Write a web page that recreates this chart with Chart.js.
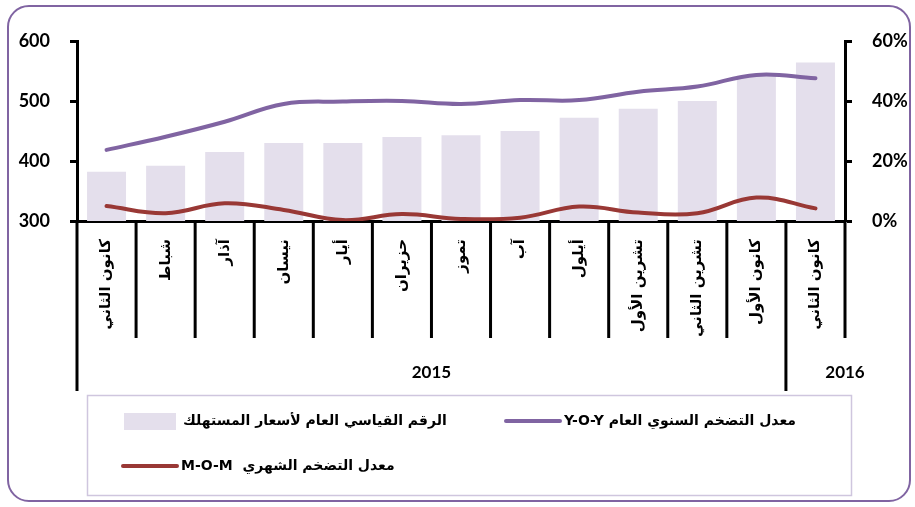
<!DOCTYPE html>
<html>
<head>
<meta charset="utf-8">
<script src="https://cdn.jsdelivr.net/npm/chart.js@4"></script>
<style>
  html, body { margin: 0; padding: 0; background: #fff; }
  #wrap { position: relative; width: 915px; height: 507px; overflow: hidden; }
  #frame {
    position: absolute; left: 7px; top: 5px; width: 904px; height: 497px;
    border: 2px solid #8064A2; border-radius: 22px; box-sizing: border-box;
  }
  canvas { position: absolute; left: 0; top: 0; }
</style>
</head>
<body>
<div id="wrap">
  <div id="frame"></div>
  <canvas id="cpiChart" width="915" height="507"></canvas>
</div>
<script>
// months Jan 2015 .. Jan 2016
const months = ['كانون الثاني', 'شباط', 'آذار', 'نيسان', 'أيار', 'حزيران', 'تموز', 'آب', 'أيلول', 'تشرين الأول', 'تشرين الثاني', 'كانون الأول', 'كانون الثاني'];
const years = ['2015', '2016'];
const monthsPerYear = [12, 1];

const cpiIndex = [382, 392, 415, 430, 430, 440, 443, 450, 472, 487, 500, 542, 564];
const yoyRate = [23.7, 28.1, 33.1, 39.0, 39.8, 40.0, 39.0, 40.3, 40.3, 43.1, 44.8, 48.7, 47.6];
const momRate = [5.0, 2.6, 5.9, 3.7, 0.3, 2.3, 0.7, 1.1, 4.8, 2.8, 2.6, 7.8, 4.2];

const leftTicks = [300, 400, 500, 600];
const rightTicks = [0, 20, 40, 60];

const arabicFont = 'bold 14px "DejaVu Sans"';
const numFont = { family: 'Lato', size: 18, weight: 'bold' };

// separators under the x axis, year labels and the boxed legend
const extras = {
  id: 'extras',
  afterDraw(chart) {
    const ctx = chart.ctx;
    const x = chart.scales.x;
    const area = chart.chartArea;
    const step = x.getPixelForValue(1) - x.getPixelForValue(0);
    ctx.save();
    ctx.strokeStyle = '#000';
    ctx.lineWidth = 3;
    // month separators
    let idx = 0;
    const yearEdges = [area.left];
    monthsPerYear.forEach(n => { idx += n; yearEdges.push(x.getPixelForValue(idx - 1) + step / 2); });
    for (let i = 0; i <= months.length; i++) {
      const px = x.getPixelForValue(i) - step / 2;
      const isYearEdge = i === 0 || (i < months.length && yearEdges.some(e => Math.abs(e - px) < 1));
      ctx.beginPath();
      ctx.moveTo(px, area.bottom);
      ctx.lineTo(px, isYearEdge ? 391 : 338);
      ctx.stroke();
    }
    // year labels
    ctx.fillStyle = '#000';
    ctx.font = 'bold 17px Lato';
    ctx.textAlign = 'center';
    ctx.textBaseline = 'middle';
    years.forEach((y, i) => {
      const a = yearEdges[i], b = yearEdges[i + 1];
      const cx = i === years.length - 1 ? b : (a + b) / 2;
      ctx.fillText(y, cx, 373);
    });
    // legend
    ctx.strokeStyle = '#CFC6DE';
    ctx.lineWidth = 1.5;
    ctx.strokeRect(87.5, 395.5, 764, 100);
    const ds = chart.data.datasets;
    ctx.font = arabicFont;
    ctx.direction = 'rtl';
    ctx.textAlign = 'left';
    ctx.fillStyle = '#000';
    // bar item
    ctx.fillStyle = ds[0].backgroundColor;
    ctx.fillRect(124, 413, 52, 17);
    ctx.fillStyle = '#000';
    ctx.fillText(ds[0].label, 183, 421);
    // line items
    const lineItem = (d, x0, y0) => {
      ctx.strokeStyle = d.borderColor;
      ctx.lineWidth = 4;
      ctx.lineCap = 'round';
      ctx.beginPath();
      ctx.moveTo(x0, y0);
      ctx.lineTo(x0 + 54, y0);
      ctx.stroke();
      ctx.fillStyle = '#000';
      ctx.fillText(d.label, x0 + 58, y0);
    };
    lineItem(ds[1], 506, 421);
    lineItem(ds[2], 123, 466);
    ctx.restore();
  }
};

new Chart(document.getElementById('cpiChart'), {
  data: {
    labels: months,
    datasets: [{
      type: 'bar',
      label: 'الرقم القياسي العام لأسعار المستهلك',
      data: cpiIndex,
      backgroundColor: '#E4DFEC',
      yAxisID: 'y',
      barPercentage: 0.66,
      categoryPercentage: 1,
      order: 3
    }, {
      type: 'line',
      label: 'معدل التضخم السنوي العام Y-O-Y',
      data: yoyRate,
      borderColor: '#8064A2',
      borderWidth: 4,
      borderCapStyle: 'round',
      tension: 0.4,
      pointRadius: 0,
      yAxisID: 'y1',
      order: 1
    }, {
      type: 'line',
      label: 'معدل التضخم الشهري  M-O-M',
      data: momRate,
      borderColor: '#993835',
      borderWidth: 4,
      borderCapStyle: 'round',
      tension: 0.4,
      pointRadius: 0,
      yAxisID: 'y1',
      order: 2
    }]
  },
  options: {
    responsive: false,
    animation: false,
    layout: { padding: { top: 41, left: 0, right: 0, bottom: 0 } },
    scales: {
      x: {
        offset: true,
        grid: { display: false },
        border: { display: true, color: '#000', width: 3 },
        ticks: {
          minRotation: 90,
          maxRotation: 90,
          padding: 10,
          color: '#000',
          font: { family: 'DejaVu Sans', size: 15, weight: 'bold' }
        },
        afterFit: s => { s.height = 286; }
      },
      y: {
        position: 'left',
        min: 300,
        max: 600,
        afterBuildTicks: s => { s.ticks = leftTicks.map(v => ({ value: v })); },
        grid: { drawOnChartArea: false, drawTicks: true, tickLength: 7, tickColor: '#000', tickWidth: 3 },
        border: { display: true, color: '#000', width: 3 },
        ticks: { color: '#000', padding: 20, font: numFont },
        afterFit: s => { s.width = 77; }
      },
      y1: {
        position: 'right',
        min: 0,
        max: 60,
        afterBuildTicks: s => { s.ticks = rightTicks.map(v => ({ value: v })); },
        grid: { drawOnChartArea: false, drawTicks: true, tickLength: 7, tickColor: '#000', tickWidth: 3 },
        border: { display: true, color: '#000', width: 3 },
        ticks: { color: '#000', padding: 20, font: numFont, callback: v => v + '%' },
        afterFit: s => { s.width = 70; }
      }
    },
    plugins: {
      legend: { display: false },
      tooltip: { enabled: false }
    }
  },
  plugins: [extras]
});
</script>
</body>
</html>
